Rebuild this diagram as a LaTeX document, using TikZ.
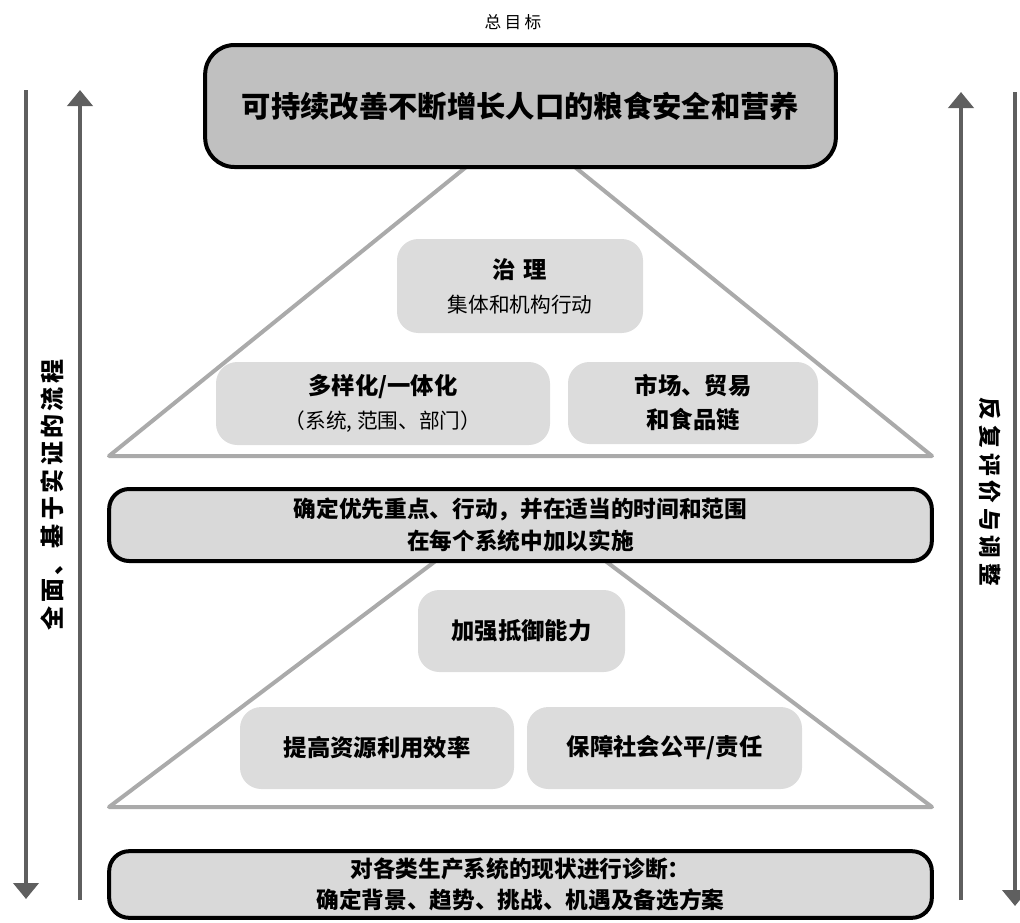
\documentclass[tikz,border=0pt]{standalone}
\usepackage{fontspec}
\setmainfont{Noto Sans CJK SC}
\newfontfamily\sidefont{Noto Sans CJK SC}[LetterSpace=14]
\newfontfamily\sidefontb{Noto Sans CJK SC}[LetterSpace=22]
\newfontfamily\goalfont{Noto Sans CJK SC}[LetterSpace=20]
\usetikzlibrary{arrows.meta}
\definecolor{topgray}{HTML}{C0C0C0}
\definecolor{boxgray}{HTML}{D9D9D9}
\definecolor{innergray}{HTML}{DCDCDC}
\definecolor{trigray}{HTML}{AAAAAA}
\definecolor{arrowgray}{HTML}{5F5F5F}
\begin{document}
\begin{tikzpicture}[x=0.75pt,y=-0.75pt,
  mainbox/.style={draw=black, line width=3pt, rounded corners=15pt, fill=boxgray, align=center, inner sep=0pt},
  innerbox/.style={draw=none, rounded corners=16pt, fill=innergray, align=center, inner sep=0pt, minimum height=61.5pt},
  tri/.style={draw=trigray, line width=3pt, line join=round},
  sidearrow/.style={draw=arrowgray, line width=3pt, -{Triangle[width=18.75pt,length=12pt]}},
  bigtxt/.style={font=\fontsize{17.5pt}{25.5pt}\selectfont\bfseries}
]
\useasboundingbox (0,0) rectangle (1020,922);

% triangles (drawn first, boxes cover apexes)
\coordinate (ta) at (520.5,123);
\coordinate (tl) at (109,456);
\coordinate (tr) at (932,456);
\draw[tri] (ta) -- (tl) -- (tr) -- cycle;
\coordinate (la) at (520.5,497);
\coordinate (ll) at (109,807);
\coordinate (lr) at (932,807);
\draw[tri] (la) -- (ll) -- (lr) -- cycle;

% goal label
\node[font=\goalfont\fontsize{12.5pt}{14pt}\selectfont] (goal) at (513,22) {总目标};

% top box
\node[mainbox, fill=topgray, rounded corners=22pt, minimum width=473pt, minimum height=91.5pt,
      font=\fontsize{22pt}{26pt}\selectfont\bfseries] (top) at (520.5,106)
  {可持续改善不断增长人口的粮食安全和营养};

% upper pyramid boxes
\node[innerbox, minimum width=184.5pt, minimum height=70.5pt, bigtxt] (gov) at (520,286)
  {治\,\,理\\{\mdseries\fontsize{15.5pt}{25pt}\selectfont 集体和机构行动}};
\node[innerbox, minimum width=250.5pt, minimum height=62.25pt, bigtxt] (div) at (383,403.5)
  {多样化/一体化\\{\mdseries\fontsize{15.5pt}{25.5pt}\selectfont （系统, 范围、部门）}};
\node[innerbox, minimum width=187.5pt, bigtxt] (mkt) at (693,403)
  {市场、贸易\\和食品链};

% middle box
\node[mainbox, minimum width=617pt, minimum height=54pt,
      font=\fontsize{17pt}{24pt}\selectfont\bfseries] (mid) at (520.5,525)
  {确定优先重点、行动，并在适当的时间和范围\\在每个系统中加以实施};

% lower pyramid boxes
\node[innerbox, minimum width=155.25pt, bigtxt] (res) at (521.5,631) {加强抵御能力};
\node[innerbox, minimum width=205.5pt, bigtxt] (eff) at (377,748) {提高资源利用效率};
\node[innerbox, minimum width=206.25pt, bigtxt] (eq) at (664.5,748) {保障社会公平/责任};

% bottom box
\node[mainbox, minimum width=617pt, minimum height=50pt,
      font=\fontsize{17pt}{23pt}\selectfont\bfseries] (bot) at (520.5,884.5)
  {对各类生产系统的现状进行诊断：\\确定背景、趋势、挑战、机遇及备选方案};

% side arrows
\coordinate (lo1) at (26,90);
\coordinate (lo2) at (26,899);
\coordinate (li1) at (80,900);
\coordinate (li2) at (80,90);
\coordinate (ri1) at (961,900);
\coordinate (ri2) at (961,92);
\coordinate (ro1) at (1015,92);
\coordinate (ro2) at (1015,906);
\draw[sidearrow] (lo1) -- (lo2);
\draw[sidearrow] (li1) -- (li2);
\draw[sidearrow] (ri1) -- (ri2);
\draw[sidearrow] (ro1) -- (ro2);

% side labels
\node[rotate=90, font=\sidefont\fontsize{18pt}{20pt}\selectfont\bfseries] (ltxt) at (52,495) {全面、基于实证的流程};
\node[rotate=-90, font=\sidefontb\fontsize{17pt}{20pt}\selectfont\bfseries] (rtxt) at (990,492) {反复评价与调整};
\end{tikzpicture}
\end{document}
